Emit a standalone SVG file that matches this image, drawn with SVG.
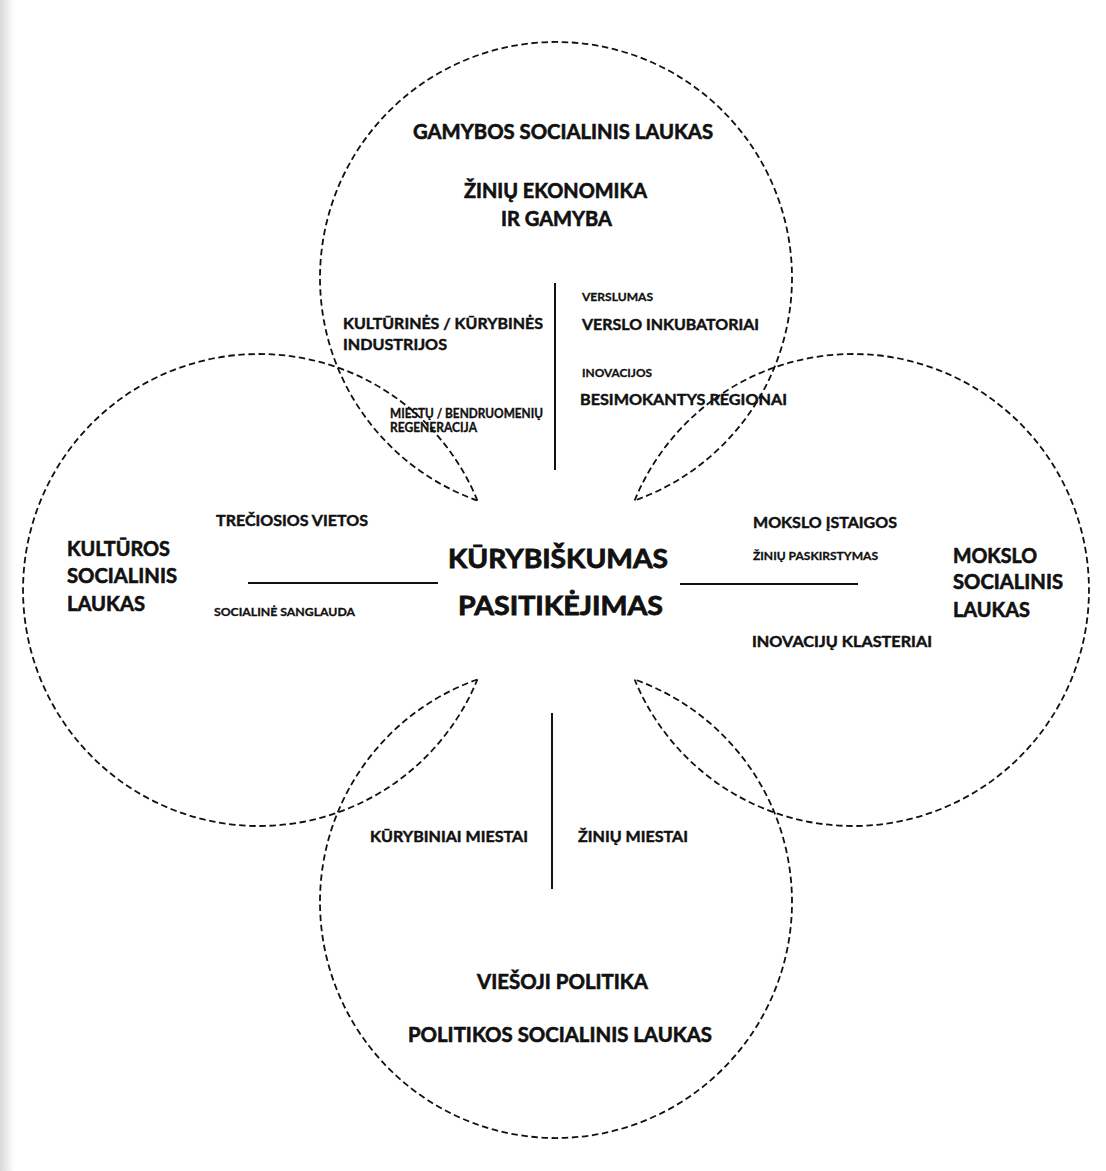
<svg xmlns="http://www.w3.org/2000/svg" width="1106" height="1171" viewBox="0 0 1106 1171">
<style>
text{font-family:Lato,"Open Sans","Liberation Sans",sans-serif;font-weight:700;fill:#111;stroke:#111;stroke-width:0.45}
.circ{fill:none;stroke:#111;stroke-width:1.8;stroke-dasharray:6.5 3.6}
.div{stroke:#111;stroke-width:2;fill:none}
.xl{font-size:20px;stroke-width:0.6}
.c{font-size:26px;stroke-width:0.8}
.m{font-size:16px}
.s{font-size:11.5px;stroke-width:0.3}
.sm{font-size:13px;stroke-width:0.35}
</style>
<defs>
<linearGradient id="edge" x1="0" x2="1" y1="0" y2="0">
<stop offset="0" stop-color="#d8d8d8"/>
<stop offset="1" stop-color="#ffffff"/>
</linearGradient>
</defs>
<rect width="1106" height="1171" fill="#ffffff"/>
<rect x="0" y="0" width="14" height="1171" fill="url(#edge)"/>

<g id="field-gamyba">
<path class="circ" d="M477.4 500.5 A236 236 0 1 1 634.6 500.5"/>
<text class="xl" x="413" y="139" textLength="300" lengthAdjust="spacingAndGlyphs">GAMYBOS SOCIALINIS LAUKAS</text>
<text class="xl" x="464" y="198" textLength="183" lengthAdjust="spacingAndGlyphs">ŽINIŲ EKONOMIKA</text>
<text class="xl" x="501" y="226" textLength="111" lengthAdjust="spacingAndGlyphs">IR GAMYBA</text>
<text class="m" x="343" y="329" textLength="200" lengthAdjust="spacingAndGlyphs">KULTŪRINĖS / KŪRYBINĖS</text>
<text class="m" x="343" y="350" textLength="104" lengthAdjust="spacingAndGlyphs">INDUSTRIJOS</text>
<text class="sm" x="390" y="418" textLength="153" lengthAdjust="spacingAndGlyphs">MIESTŲ / BENDRUOMENIŲ</text>
<text class="sm" x="390" y="432" textLength="87" lengthAdjust="spacingAndGlyphs">REGENERACIJA</text>
<text class="s" x="582" y="301" textLength="71" lengthAdjust="spacingAndGlyphs">VERSLUMAS</text>
<text class="m" x="582" y="330" textLength="177" lengthAdjust="spacingAndGlyphs">VERSLO INKUBATORIAI</text>
<text class="s" x="582" y="377" textLength="70" lengthAdjust="spacingAndGlyphs">INOVACIJOS</text>
<text class="m" x="580" y="405" textLength="207" lengthAdjust="spacingAndGlyphs">BESIMOKANTYS REGIONAI</text>
</g>

<g id="field-kultura">
<path class="circ" d="M477.4 500.5 A236 236 0 1 0 477.4 679.5"/>
<text class="xl" x="67" y="556" textLength="103" lengthAdjust="spacingAndGlyphs">KULTŪROS</text>
<text class="xl" x="67" y="583" textLength="110" lengthAdjust="spacingAndGlyphs">SOCIALINIS</text>
<text class="xl" x="67" y="611" textLength="78" lengthAdjust="spacingAndGlyphs">LAUKAS</text>
<text class="m" x="216" y="526" textLength="152" lengthAdjust="spacingAndGlyphs">TREČIOSIOS VIETOS</text>
<text class="s" x="214" y="616" textLength="141" lengthAdjust="spacingAndGlyphs">SOCIALINĖ SANGLAUDA</text>
</g>

<g id="field-mokslas">
<path class="circ" d="M634.6 500.5 A236 236 0 1 1 634.6 679.5"/>
<text class="xl" x="953" y="563" textLength="84" lengthAdjust="spacingAndGlyphs">MOKSLO</text>
<text class="xl" x="953" y="589" textLength="110" lengthAdjust="spacingAndGlyphs">SOCIALINIS</text>
<text class="xl" x="953" y="617" textLength="77" lengthAdjust="spacingAndGlyphs">LAUKAS</text>
<text class="m" x="753" y="528" textLength="144" lengthAdjust="spacingAndGlyphs">MOKSLO ĮSTAIGOS</text>
<text class="s" x="753" y="560" textLength="125" lengthAdjust="spacingAndGlyphs">ŽINIŲ PASKIRSTYMAS</text>
<text class="m" x="752" y="647" textLength="180" lengthAdjust="spacingAndGlyphs">INOVACIJŲ KLASTERIAI</text>
</g>

<g id="field-politika">
<path class="circ" d="M477.4 679.5 A236 236 0 1 0 634.6 679.5"/>
<text class="m" x="370" y="842" textLength="158" lengthAdjust="spacingAndGlyphs">KŪRYBINIAI MIESTAI</text>
<text class="m" x="578" y="842" textLength="110" lengthAdjust="spacingAndGlyphs">ŽINIŲ MIESTAI</text>
<text class="xl" x="477" y="989" textLength="171" lengthAdjust="spacingAndGlyphs">VIEŠOJI POLITIKA</text>
<text class="xl" x="408" y="1042" textLength="304" lengthAdjust="spacingAndGlyphs">POLITIKOS SOCIALINIS LAUKAS</text>
</g>

<g id="center">
<text class="c" x="448" y="568" textLength="220" lengthAdjust="spacingAndGlyphs">KŪRYBIŠKUMAS</text>
<text class="c" x="458" y="615" textLength="205" lengthAdjust="spacingAndGlyphs">PASITIKĖJIMAS</text>
</g>

<g id="connectors">
<line class="div" x1="555" y1="283" x2="555" y2="470"/>
<line class="div" x1="552" y1="713" x2="552" y2="889"/>
<line class="div" x1="248" y1="583" x2="438" y2="583"/>
<line class="div" x1="680" y1="584" x2="858" y2="584"/>
</g>
</svg>
